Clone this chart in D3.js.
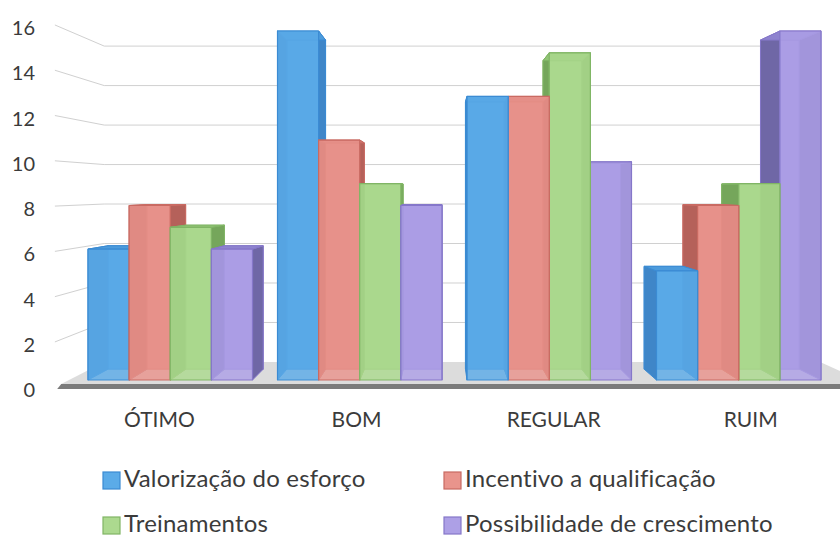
<!DOCTYPE html>
<html>
<head>
<meta charset="utf-8">
<script src="https://cdn.jsdelivr.net/npm/d3@7"></script>
<style>
  body { margin: 0; background: #fff; }
  svg { display: block; }
  text { font-family: Lato, "Open Sans", sans-serif; fill: #3b3b3b; }
</style>
</head>
<body>
<svg id="chart" width="840" height="537"></svg>
<script>
// Avaliação por categoria (contagem de respostas)
const categories = ["ÓTIMO", "BOM", "REGULAR", "RUIM"];
const seriesNames = [
  "Valorização do esforço",
  "Incentivo a qualificação",
  "Treinamentos",
  "Possibilidade de crescimento"
];
const valorizacao   = [6, 16, 13, 5];
const incentivo     = [8, 11, 13, 8];
const treinamentos  = [7, 9, 15, 9];
const possibilidade = [6, 8, 10, 16];
const yTicks = [0, 2, 4, 6, 8, 10, 12, 14, 16];

const seriesValues = [valorizacao, incentivo, treinamentos, possibilidade];

// Face shading per series: front, side, top, back, edge
const palette = [
  { front: "#5babe8", side: "#3f86c8", top: "#4c9bdc", back: "#4f9fe0", edge: "#3b8bd3" },
  { front: "#e9948c", side: "#b5615a", top: "#d27c74", back: "#de8880", edge: "#c96a62" },
  { front: "#acd98f", side: "#75a65b", top: "#92c476", back: "#9fcf84", edge: "#80b565" },
  { front: "#ada0e6", side: "#6f67a6", top: "#8e83cf", back: "#a092dc", edge: "#8577c9" }
];

const svg = d3.select("#chart");

// Perspective: points at depth s are pulled toward the vanishing point
const vx = 440, vy = 190;
const sBarBack = 0.943;   // back plane of the columns
const sWall = 0.905;      // back wall
const sFloor = 1.021;     // front edge of the floor
const sAxis = 1.038;      // front edge of the side wall / value labels
const sCat = 1.04;        // category labels
const wallLeft = 69, wallRight = 860;
const P = (X, Y, s) => [vx + (X - vx) * s, vy + (Y - vy) * s];

const y = d3.scaleLinear().domain([0, 16]).range([380, 31]);
const x0 = d3.scaleBand().domain(categories).range([75.5, 833.5])
  .paddingInner(0.132).paddingOuter(0.066);
const x1 = d3.scaleBand().domain(seriesNames).range([0, x0.bandwidth()]);

const line = d3.line();

// Gridlines: along the side wall, then across the back wall
const grid = svg.append("g").attr("fill", "none").attr("stroke", "#d0d0d0").attr("stroke-width", 1);
yTicks.filter(v => v > 0).forEach(v => {
  grid.append("path").attr("d", line([
    P(wallLeft, y(v), sAxis), P(wallLeft, y(v), sWall), P(wallRight, y(v), sWall)
  ]));
});

// Floor slab
const y0 = y(0);
svg.append("path")
  .attr("d", line([P(wallLeft, y0, sFloor), P(wallRight, y0, sFloor),
                   P(wallRight, y0, sWall), P(wallLeft, y0, sWall)]) + "Z")
  .attr("fill", "#dcdcdc");
const fl = P(wallLeft, y0, sFloor), fr = P(wallRight, y0, sFloor);
svg.append("path")
  .attr("d", line([fl, fr, [fr[0], fr[1] + 5], [fl[0] - 4, fl[1] + 5]]) + "Z")
  .attr("fill", "#7b7b7b");

// Value labels
svg.append("g").selectAll("text").data(yTicks).join("text")
  .attr("x", 35)
  .attr("y", d => P(wallLeft, y(d), sAxis)[1] + 2)
  .attr("text-anchor", "end")
  .attr("dominant-baseline", "central")
  .attr("font-size", 20)
  .text(d => d);

// Category labels
svg.append("g").selectAll("text").data(categories).join("text")
  .attr("x", d => P(x0(d) + x0.bandwidth() / 2, y0, sCat)[0])
  .attr("y", 418)
  .attr("text-anchor", "middle")
  .attr("dominant-baseline", "central")
  .attr("font-size", 21)
  .text(d => d);

// Columns as boxes, drawn from the outside toward the vanishing point
const bars = [];
categories.forEach((c, i) => {
  seriesNames.forEach((s, j) => {
    const X0 = x0(c) + x1(s), X1 = X0 + x1.bandwidth();
    bars.push({ X0, X1, v: seriesValues[j][i], col: palette[j] });
  });
});
bars.sort((a, b) => Math.abs((b.X0 + b.X1) / 2 - vx) - Math.abs((a.X0 + a.X1) / 2 - vx));

const barG = svg.append("g").attr("stroke-linejoin", "round");
bars.forEach(b => {
  const g = barG.append("g");
  const Yt = y(b.v), Yb = y(0), sb = sBarBack;
  const quad = pts => line(pts) + "Z";
  g.append("path").attr("d", quad([P(b.X0, Yt, sb), P(b.X1, Yt, sb), P(b.X1, Yb, sb), P(b.X0, Yb, sb)]))
    .attr("fill", b.col.back).attr("stroke", b.col.edge).attr("stroke-width", 1);
  g.append("path").attr("d", quad([P(b.X0, Yt, 1), P(b.X0, Yt, sb), P(b.X0, Yb, sb), P(b.X0, Yb, 1)]))
    .attr("fill", b.col.side).attr("stroke", b.col.edge).attr("stroke-width", 1);
  g.append("path").attr("d", quad([P(b.X1, Yt, 1), P(b.X1, Yt, sb), P(b.X1, Yb, sb), P(b.X1, Yb, 1)]))
    .attr("fill", b.col.side).attr("stroke", b.col.edge).attr("stroke-width", 1);
  g.append("path").attr("d", quad([P(b.X0, Yt, 1), P(b.X1, Yt, 1), P(b.X1, Yt, sb), P(b.X0, Yt, sb)]))
    .attr("fill", b.col.top).attr("stroke", b.col.edge).attr("stroke-width", 1);
  g.append("rect")
    .attr("x", b.X0).attr("y", Yt).attr("width", b.X1 - b.X0).attr("height", Yb - Yt)
    .attr("fill", b.col.front).attr("fill-opacity", 0.82)
    .attr("stroke", b.col.edge).attr("stroke-width", 1.2);
});

// Legend
const legendPos = [[103, 487], [444, 487], [103, 532], [444, 532]];
const lg = svg.append("g");
seriesNames.forEach((s, j) => {
  const [lx, ly] = legendPos[j];
  lg.append("rect").attr("x", lx).attr("y", ly - 15).attr("width", 17).attr("height", 17)
    .attr("fill", palette[j].front).attr("stroke", palette[j].edge).attr("stroke-width", 1.2);
  lg.append("text").attr("x", lx + 21).attr("y", ly)
    .attr("font-size", 24).attr("letter-spacing", 0.2).text(s);
});
</script>
</body>
</html>
